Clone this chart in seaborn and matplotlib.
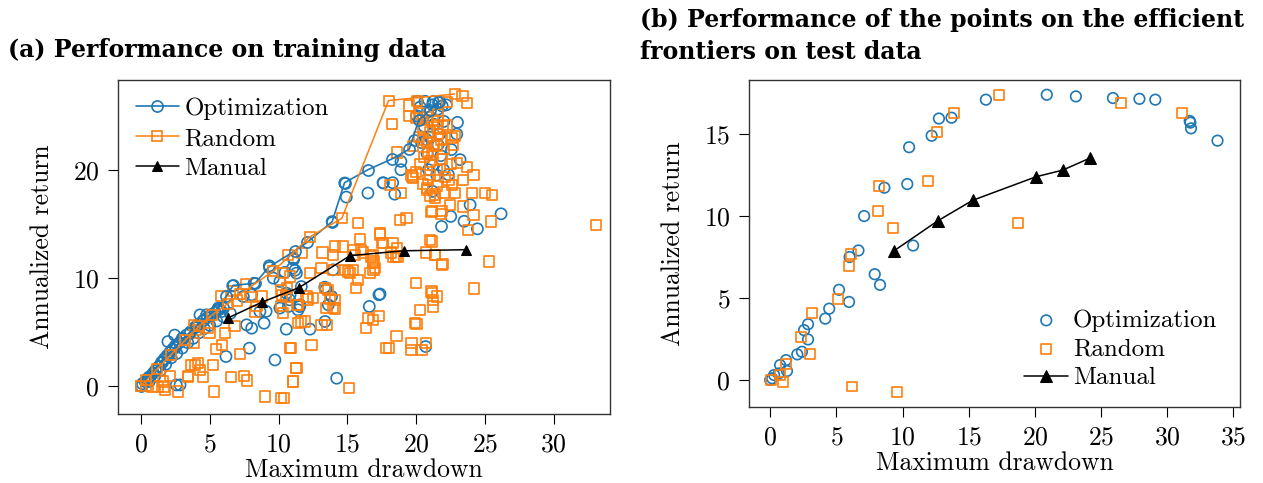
import numpy as np
import pandas as pd
import matplotlib
matplotlib.use("Agg")
import matplotlib.pyplot as plt
import seaborn as sns

# ---------------- data ----------------
BLUE = "#1f77b4"
ORANGE = "#ff7f0e"

# (a) training data -- efficient frontiers (connected)
opt_front_x = [0.0, 0.5, 1.0, 1.5, 2.0, 2.5, 3.0, 3.5, 4.0, 4.5, 5.0, 5.5, 6.2, 6.7, 8.3, 9.3, 11.2, 12.1, 13.9, 14.8, 16.5, 18.25, 19.5, 20.2, 21.0, 21.6]
opt_front_y = [0.0, 0.8, 1.5, 2.2, 2.9, 3.6, 4.3, 4.9, 5.5, 6.1, 6.6, 7.0, 8.3, 9.3, 9.5, 11.0, 12.5, 13.3, 15.2, 18.8, 20.0, 21.0, 21.9, 24.6, 25.5, 26.3]
rnd_front_x = [0.0, 0.4, 1.2, 2.2, 3.2, 4.2, 5.2, 6.3, 7.2, 9.6, 12.3, 14.6, 18.0, 22.8]
rnd_front_y = [0.0, 0.5, 1.6, 2.9, 4.2, 5.5, 6.6, 7.6, 8.5, 10.6, 13.8, 15.5, 26.4, 27.0]
man_train_x = [6.35, 8.8, 11.5, 15.2, 19.1, 23.6]
man_train_y = [6.3, 7.75, 9.1, 12.05, 12.5, 12.6]

# (a) training data -- all other evaluated points
opt_train_pts = [
    (0.1, 0.2), (0.3, 0.4), (0.5, 0.6), (0.7, 0.9), (0.9, 1.2), (1.1, 1.5), (1.3, 1.8), (1.5, 2.2),
    (1.7, 2.5), (1.9, 2.8), (2.1, 3.1), (2.3, 3.4), (2.5, 3.7), (2.8, 4.0), (3.0, 4.4), (3.3, 4.7),
    (3.6, 5.0), (3.9, 5.4), (4.2, 5.7), (4.5, 6.0), (4.8, 6.3), (5.1, 6.6), (5.4, 6.8), (5.7, 7.1),
    (6.0, 7.2), (0.6, 0.4), (1.0, 0.9), (1.4, 1.4), (1.8, 2.0), (2.2, 2.6), (2.6, 3.0), (3.0, 3.5),
    (3.4, 4.0), (3.8, 4.4), (4.2, 4.9), (4.6, 5.3), (5.0, 5.6), (5.5, 6.0), (6.0, 6.4), (6.5, 6.7),
    (2.57, 0.09), (2.84, 0.09), (4.29, 6.57), (4.77, 6.57), (5.62, 7.2), (5.87, 6.88), (2.45, 4.7), (1.96, 4.1),
    (6.67, 9.26), (7.44, 8.27), (8.05, 8.43), (8.22, 9.5), (9.62, 9.97), (10.1, 9.66), (10.47, 10.5), (11.03, 10.9),
    (11.08, 11.82), (9.33, 11.11), (10.84, 8.43), (11.56, 7.5), (10.72, 7.35), (10.1, 7.2), (8.65, 6.88), (9.1, 6.9),
    (7.68, 5.65), (8.05, 5.34), (8.95, 5.8), (10.56, 5.25), (12.29, 5.25), (13.38, 5.96), (13.62, 7.5), (13.86, 8.27),
    (13.45, 8.95), (13.96, 10.74), (11.3, 10.43), (11.66, 9.19), (13.36, 9.13), (10.57, 8.58), (10.81, 7.96), (11.54, 7.34),
    (11.42, 7.04), (16.6, 7.35), (17.3, 8.43), (7.88, 3.49), (6.18, 2.72), (9.74, 2.4), (14.23, 0.71), (11.1, 11.7),
    (11.2, 10.7), (13.9, 15.2), (14.81, 18.77), (14.93, 17.47), (16.5, 17.84), (17.6, 18.8), (18.3, 18.8), (18.45, 17.74),
    (18.9, 20.77), (18.9, 20.0), (17.62, 18.77), (21.85, 14.75), (22.52, 15.68), (23.49, 15.23), (24.46, 14.53), (26.18, 15.92),
    (23.93, 16.75), (22.35, 19.54), (23.2, 20.93), (22.96, 23.3), (22.03, 24.47), (21.59, 25.6), (20.65, 26.33), (20.1, 26.33),
    (21.24, 26.3), (21.72, 26.3), (22.2, 26.0), (20.03, 25.0), (20.5, 24.8), (20.75, 22.8), (21.72, 23.3), (22.57, 21.86),
    (23.01, 24.38), (20.7, 3.64), (17.38, 8.5), (20.3, 25.8), (20.8, 25.3), (21.2, 26.0), (21.9, 25.9), (20.6, 24.0),
    (21.3, 24.2), (20.4, 22.5), (21.0, 23.0), (21.6, 22.3), (20.8, 21.5), (21.8, 21.3), (21.2, 20.4), (22.0, 20.0),
    (21.5, 19.5), (20.9, 20.0), (19.9, 22.7), (21.2, 18.0),
]
rnd_train_pts = [
    (0.0, 0.0), (0.39, 0.0), (0.8, -0.06), (1.24, -0.06), (1.67, -0.12), (1.72, -0.37), (1.6, 0.4), (2.1, 0.93),
    (2.69, -0.52), (3.4, 0.8), (3.66, 1.94), (4.15, 2.1), (4.27, 1.48), (4.51, 0.8), (5.31, -0.52), (5.24, 1.94),
    (6.57, 0.8), (7.49, 0.93), (7.73, 0.5), (9.04, -0.99), (10.16, -1.14), (5.48, 3.4), (5.89, 3.8), (6.13, 4.87),
    (6.8, 5.55), (7.18, 2.96), (5.8, 8.3), (6.69, 8.8), (8.0, 8.2), (8.4, 7.4), (7.66, 9.45), (10.2, 8.9),
    (10.2, 7.4), (3.9, 5.65), (4.0, 5.2), (4.87, 5.4), (4.99, 4.87), (3.86, 3.95), (3.44, 0.93), (3.93, 1.94),
    (10.7, 12.13), (13.2, 12.35), (13.96, 12.13), (15.54, 12.13), (16.15, 12.35), (16.87, 12.13), (16.87, 11.36), (17.0, 10.9),
    (16.63, 10.43), (18.2, 12.35), (18.69, 11.98), (20.75, 12.35), (21.36, 12.13), (21.92, 11.3), (19.97, 9.5), (21.12, 8.74),
    (21.53, 8.27), (21.24, 7.96), (21.24, 7.34), (20.27, 7.04), (20.03, 5.74), (18.57, 4.63), (17.79, 3.49), (18.04, 3.49),
    (19.66, 3.95), (19.66, 3.33), (20.39, 3.33), (20.7, 3.95), (16.51, 6.27), (17.31, 6.48), (16.87, 6.11), (16.34, 5.33),
    (15.13, -0.2), (11.05, 0.4), (11.3, 1.64), (10.93, 3.49), (12.39, 3.8), (11.42, 5.8), (11.9, 5.96), (13.12, 5.64),
    (13.5, 5.65), (13.48, 7.2), (13.96, 7.2), (13.72, 8.03), (14.09, 7.96), (13.6, 8.89), (13.36, 9.04), (12.27, 10.43),
    (13.12, 10.9), (14.81, 10.74), (15.42, 10.74), (15.18, 10.43), (15.78, 9.81), (15.61, 9.04), (10.57, 8.27), (11.42, 7.5),
    (12.03, 8.27), (12.51, 8.1), (10.4, -1.1), (10.33, 10.43), (10.81, 10.12), (13.99, 10.74), (15.05, 10.59), (16.72, 11.98),
    (18.55, 11.98), (10.6, 9.04), (10.24, 8.43), (8.78, 8.27), (8.29, 6.88), (6.96, 7.9), (11.64, 5.96), (14.11, 7.16),
    (12.17, 8.0), (11.32, 7.5), (10.3, 6.73), (19.93, 5.8), (10.84, 3.49), (11.27, 1.64), (11.03, 0.4), (24.22, 9.0),
    (21.14, 8.6), (25.31, 11.51), (21.38, 12.13), (21.87, 11.2), (21.14, 13.36), (17.38, 14.0), (18.6, 12.75), (18.36, 11.97),
    (17.5, 13.2), (15.45, 12.6), (16.0, 12.6), (16.9, 11.5), (16.9, 10.74), (14.08, 12.9), (14.69, 12.9), (15.9, 13.58),
    (17.36, 14.14), (17.6, 13.2), (18.33, 13.2), (21.0, 13.5), (33.09, 14.9), (11.7, 12.3),
    (19.5, 25.93), (20.05, 26.33), (18.27, 24.2), (18.62, 21.6), (19.66, 19.54), (19.78, 19.2), (20.8, 18.15), (21.36, 17.4),
    (21.12, 16.1), (21.84, 15.9), (19.3, 15.5), (18.81, 15.37), (15.78, 15.1), (18.93, 17.84), (18.08, 18.6), (20.87, 21.6),
    (20.99, 20.77), (19.78, 22.16), (20.51, 22.77), (20.51, 24.6), (21.6, 24.48), (21.96, 24.0), (21.6, 23.28), (21.48, 22.2),
    (23.37, 26.85), (23.73, 26.17), (22.23, 26.23), (22.23, 24.17), (22.6, 22.93), (22.84, 23.1), (22.96, 20.6), (23.69, 20.24),
    (24.17, 19.5), (22.35, 19.07), (23.44, 19.07), (22.84, 17.83), (24.05, 17.83), (25.02, 17.83), (25.5, 17.68), (23.44, 16.6),
    (24.17, 15.83), (23.8, 14.44), (25.43, 15.2), (22.47, 16.75), (21.87, 16.15), (21.14, 16.15), (19.68, 19.38), (20.89, 19.07),
    (20.77, 18.3), (21.38, 17.7), (22.69, 22.3), (19.5, 25.0), (20.0, 24.8), (20.3, 25.2), (20.8, 24.9), (21.2, 24.6),
    (21.6, 25.1), (20.5, 23.8), (21.0, 23.5), (21.5, 23.9), (20.2, 23.0), (20.8, 22.5), (21.3, 22.2), (21.8, 22.8),
    (22.0, 21.9), (21.2, 21.4), (20.6, 21.2), (21.9, 21.0), (20.3, 20.5), (21.5, 20.0), (22.5, 20.5), (20.0, 19.8),
    (21.0, 19.5), (22.1, 19.3), (20.5, 18.7), (21.5, 18.5), (22.6, 18.6), (21.0, 17.6), (22.0, 17.9),
]

# (b) test data
opt_test_x = [0.0, 0.15, 0.3, 0.66, 0.75, 1.2, 1.27, 2.05, 2.4, 2.86, 2.56, 2.86, 4.16, 4.46, 5.96, 5.2, 6.0, 6.67, 7.9, 8.3,
              7.1, 8.63, 10.36, 10.8, 10.5, 12.2, 12.75, 13.7, 16.3, 20.9, 23.1, 25.9, 27.9, 29.1, 31.7, 31.75, 31.8, 33.8]
opt_test_y = [0.0, 0.1, 0.3, 0.4, 0.91, 1.21, 0.55, 1.56, 1.72, 2.47, 3.04, 3.4, 3.74, 4.35, 4.76, 5.5, 7.5, 7.9, 6.45, 5.8,
              10.0, 11.73, 11.95, 8.2, 14.2, 14.9, 15.95, 16.0, 17.1, 17.4, 17.3, 17.2, 17.15, 17.1, 15.8, 15.7, 15.35, 14.6]
rnd_test_x = [0.06, 0.75, 0.96, 1.2, 3.0, 2.35, 3.16, 5.12, 5.96, 6.1, 6.17, 9.58, 8.15, 8.2, 9.3, 11.9, 12.6, 13.9, 17.3, 18.7, 26.5, 31.1]
rnd_test_y = [0.0, 0.3, -0.1, 1.0, 1.58, 2.63, 4.09, 4.96, 6.95, 7.66, -0.4, -0.71, 10.3, 11.85, 9.27, 12.15, 15.15, 16.3, 17.4, 9.6, 16.9, 16.3]
man_test_x = [9.36, 12.65, 15.3, 20.1, 22.1, 24.2]
man_test_y = [7.88, 9.7, 10.96, 12.4, 12.8, 13.55]

opt_train_x, opt_train_y = map(list, zip(*opt_train_pts))
rnd_train_x, rnd_train_y = map(list, zip(*rnd_train_pts))

# ---------------- style ----------------
FS = 18.5
sns.set_style("ticks")
plt.rcParams.update({
    "font.family": ["cmr10", "DejaVu Serif"],
    "mathtext.fontset": "cm",
    "axes.unicode_minus": False,
    "axes.formatter.use_mathtext": True,
    "axes.edgecolor": "#333333",
    "axes.linewidth": 1.0,
    "text.color": "black",
    "axes.labelcolor": "black",
    "xtick.color": "black",
    "ytick.color": "black",
    "xtick.major.size": 7,
    "ytick.major.size": 7,
    "xtick.major.pad": 6.5,
    "ytick.major.pad": 6.5,
    "xtick.direction": "out",
    "ytick.direction": "out",
    "xtick.labelsize": FS,
    "ytick.labelsize": FS,
    "axes.labelsize": FS,
})

fig = plt.figure(figsize=(12.63, 4.83), dpi=100)
W, H = 1263, 483
axA = fig.add_axes([118 / W, 1 - 414 / H, (610 - 118) / W, (414 - 80) / H])
axB = fig.add_axes([749 / W, 1 - 407 / H, (1240 - 749) / W, (407 - 80) / H])

MS = 8.0
SS = MS ** 2
EW = 1.2

# ---- panel (a)
sns.scatterplot(x=opt_train_x, y=opt_train_y, ax=axA, marker="o", s=SS, facecolors="none",
                edgecolor=BLUE, linewidth=EW, legend=False, zorder=2)
sns.scatterplot(x=rnd_train_x, y=rnd_train_y, ax=axA, marker="s", s=SS * 0.85, facecolors="none",
                edgecolor=ORANGE, linewidth=EW, legend=False, zorder=3)
sns.lineplot(x=opt_front_x, y=opt_front_y, ax=axA, sort=False, estimator=None, color=BLUE,
             marker="o", markersize=MS, markerfacecolor="none", markeredgecolor=BLUE,
             markeredgewidth=EW, linewidth=1.2, label="Optimization", zorder=4)
sns.lineplot(x=rnd_front_x, y=rnd_front_y, ax=axA, sort=False, estimator=None, color=ORANGE,
             marker="s", markersize=MS * 0.92, markerfacecolor="none", markeredgecolor=ORANGE,
             markeredgewidth=EW, linewidth=1.1, label="Random", zorder=4)
sns.lineplot(x=man_train_x, y=man_train_y, ax=axA, sort=False, estimator=None, color="black",
             marker="^", markersize=7, markeredgecolor="black", linewidth=1.1, label="Manual", zorder=5)

axA.set_xlim(-1.67, 34.1)
axA.set_ylim(-2.6, 28.3)
axA.set_xticks([0, 5, 10, 15, 20, 25, 30])
axA.set_yticks([0, 10, 20])
axA.set_xlabel("Maximum drawdown", labelpad=1.5)
axA.set_ylabel("Annualized return", labelpad=13)
axA.legend(loc="upper left", frameon=False, fontsize=18, handlelength=1.75, handletextpad=0.2,
           labelspacing=0.3, borderaxespad=0.3, bbox_to_anchor=(0.0, 1.0))

# ---- panel (b)
sns.scatterplot(x=opt_test_x, y=opt_test_y, ax=axB, marker="o", s=SS * 0.9, facecolors="none",
                edgecolor=BLUE, linewidth=EW, label="Optimization", zorder=3)
sns.scatterplot(x=rnd_test_x, y=rnd_test_y, ax=axB, marker="s", s=SS * 0.8, facecolors="none",
                edgecolor=ORANGE, linewidth=EW, label="Random", zorder=3)
sns.lineplot(x=man_test_x, y=man_test_y, ax=axB, sort=False, estimator=None, color="black",
             marker="^", markersize=8, markeredgecolor="black", linewidth=1.1, label="Manual", zorder=4)

axB.set_xlim(-1.6, 35.5)
axB.set_ylim(-1.65, 18.3)
axB.set_xticks([0, 5, 10, 15, 20, 25, 30, 35])
axB.set_yticks([0, 5, 10, 15])
axB.set_xlabel("Maximum drawdown", labelpad=1.5)
axB.set_ylabel("Annualized return", labelpad=13)
axB.legend(loc="lower right", frameon=False, fontsize=18, handlelength=1.75, handletextpad=0.2,
           labelspacing=0.25, bbox_to_anchor=(1.0, -0.015))

for ax in (axA, axB):
    for sp in ax.spines.values():
        sp.set_visible(True)

fig.text(8 / W, 1 - 50 / H, "(a) Performance on training data", fontfamily="DejaVu Serif",
         fontweight="bold", fontsize=17, ha="left", va="center", color="black")
fig.text(640 / W, 1 - 36 / H, "(b) Performance of the points on the efficient\nfrontiers on test data",
         fontfamily="DejaVu Serif", fontweight="bold", fontsize=17, ha="left", va="center",
         linespacing=1.4, color="black")

fig.savefig("out.png", dpi=100)
